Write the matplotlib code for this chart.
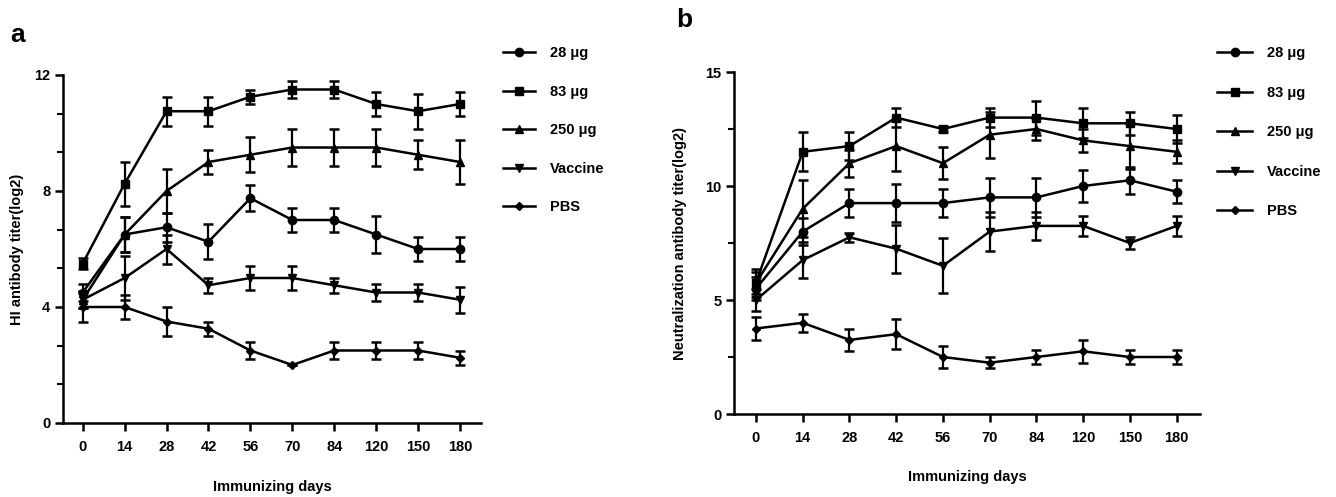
import matplotlib
matplotlib.use("Agg")
import matplotlib.pyplot as plt
from matplotlib.ticker import MultipleLocator
from matplotlib.lines import Line2D

plt.rcParams['font.family'] = ['Liberation Sans', 'DejaVu Sans']
plt.rcParams['font.weight'] = 'bold'

days = ["0", "14", "28", "42", "56", "70", "84", "120", "150", "180"]
groups = ["28 μg", "83 μg", "250 μg", "Vaccine", "PBS"]
markers = ["o", "s", "^", "v", "D"]

# Panel a: HI antibody titer (log2)
a_28 = [4.5, 6.5, 6.75, 6.25, 7.75, 7.0, 7.0, 6.5, 6.0, 6.0]
a_28_err = [0.3, 0.6, 0.5, 0.6, 0.45, 0.4, 0.4, 0.65, 0.4, 0.4]
a_83 = [5.5, 8.25, 10.75, 10.75, 11.25, 11.5, 11.5, 11.0, 10.75, 11.0]
a_83_err = [0.2, 0.75, 0.5, 0.5, 0.25, 0.3, 0.3, 0.4, 0.6, 0.4]
a_250 = [4.25, 6.5, 8.0, 9.0, 9.25, 9.5, 9.5, 9.5, 9.25, 9.0]
a_250_err = [0.3, 0.6, 0.75, 0.4, 0.6, 0.65, 0.65, 0.65, 0.5, 0.75]
a_vac = [4.25, 5.0, 6.0, 4.75, 5.0, 5.0, 4.75, 4.5, 4.5, 4.25]
a_vac_err = [0.3, 0.75, 0.5, 0.25, 0.4, 0.4, 0.25, 0.3, 0.3, 0.45]
a_pbs = [4.0, 4.0, 3.5, 3.25, 2.5, 2.0, 2.5, 2.5, 2.5, 2.25]
a_pbs_err = [0.5, 0.4, 0.5, 0.25, 0.3, 0.0, 0.3, 0.3, 0.3, 0.25]

# Panel b: Neutralization antibody titer (log2)
b_28 = [5.5, 8.0, 9.25, 9.25, 9.25, 9.5, 9.5, 10.0, 10.25, 9.75]
b_28_err = [0.5, 0.6, 0.6, 0.85, 0.6, 0.85, 0.85, 0.7, 0.6, 0.5]
b_83 = [5.75, 11.5, 11.75, 13.0, 12.5, 13.0, 13.0, 12.75, 12.75, 12.5]
b_83_err = [0.5, 0.85, 0.6, 0.4, 0.15, 0.4, 0.75, 0.65, 0.5, 0.6]
b_250 = [5.75, 9.0, 11.0, 11.75, 11.0, 12.25, 12.5, 12.0, 11.75, 11.5]
b_250_err = [0.6, 1.25, 0.6, 1.1, 0.7, 1.0, 0.5, 0.5, 1.0, 0.5]
b_vac = [5.0, 6.75, 7.75, 7.25, 6.5, 8.0, 8.25, 8.25, 7.5, 8.25]
b_vac_err = [0.5, 0.8, 0.2, 1.05, 1.2, 0.85, 0.6, 0.45, 0.25, 0.45]
b_pbs = [3.75, 4.0, 3.25, 3.5, 2.5, 2.25, 2.5, 2.75, 2.5, 2.5]
b_pbs_err = [0.5, 0.4, 0.5, 0.65, 0.5, 0.25, 0.3, 0.5, 0.3, 0.3]

W, H = 1336, 497
fig = plt.figure(figsize=(W / 100, H / 100), dpi=100)


def px_axes(l, r, t, b):
    return fig.add_axes([l / W, 1 - b / H, (r - l) / W, (b - t) / H])


def draw_panel(ax, series, errs, ymax, major, minor, ylabel, ylab_xy, xlab_xy):
    x = list(range(len(days)))
    handles = []
    for vals, err, m, lab in zip(series, errs, markers, groups):
        ms = 4.5 if m == "D" else 6
        ax.errorbar(x, vals, yerr=err, color="black", lw=1.8, marker=m,
                    ms=ms, capsize=3.5, capthick=1.8, elinewidth=1.6,
                    clip_on=False)
        handles.append(Line2D([0], [0], color="black", lw=1.8, marker=m,
                              ms=ms, label=lab))
    ax.set_xlim(-0.47, 9.5)
    ax.set_ylim(0, ymax)
    ax.set_xticks(x)
    ax.set_xticklabels(days)
    ax.yaxis.set_major_locator(MultipleLocator(major))
    ax.yaxis.set_minor_locator(MultipleLocator(minor))
    for s in ["top", "right"]:
        ax.spines[s].set_visible(False)
    for s in ["left", "bottom"]:
        ax.spines[s].set_linewidth(1.8)
    ax.tick_params(axis="both", which="major", width=1.8, length=6,
                   labelsize=10.5)
    ax.tick_params(axis="x", which="major", pad=6)
    ax.tick_params(axis="y", which="major", pad=3)
    ax.tick_params(axis="y", which="minor", width=1.5, length=4)
    for t in ax.get_xticklabels() + ax.get_yticklabels():
        t.set_fontweight("bold")
    ax.set_xlabel("Immunizing days", fontsize=10.5, fontweight="bold")
    ax.set_ylabel(ylabel, fontsize=10.5, fontweight="bold")
    ax.yaxis.set_label_coords(ylab_xy[0] / W, 1 - ylab_xy[1] / H,
                              transform=fig.transFigure)
    ax.xaxis.set_label_coords(xlab_xy[0] / W, 1 - xlab_xy[1] / H,
                              transform=fig.transFigure)
    ax.yaxis.label.set_va("center")
    ax.xaxis.label.set_va("center")
    return handles


ax_a = px_axes(63, 481, 75, 423)
ha = draw_panel(ax_a, [a_28, a_83, a_250, a_vac, a_pbs],
                [a_28_err, a_83_err, a_250_err, a_vac_err, a_pbs_err],
                12, 4, 4 / 3, "HI antibody titer(log2)", (17, 249), (272, 487))
ax_a.legend(handles=ha, loc="upper left", bbox_to_anchor=(490 / W, 1 - 33 / H),
            bbox_transform=fig.transFigure, frameon=False,
            labelspacing=1.68, handlelength=2.2, handletextpad=1.0,
            prop={"weight": "bold", "size": 10.5})

ax_b = px_axes(734, 1200, 72, 414)
hb = draw_panel(ax_b, [b_28, b_83, b_250, b_vac, b_pbs],
                [b_28_err, b_83_err, b_250_err, b_vac_err, b_pbs_err],
                15, 5, 2.5, "Neutralization antibody titer(log2)", (680, 243),
                (967, 477))
ax_b.legend(handles=hb, loc="upper left", bbox_to_anchor=(1204 / W, 1 - 33 / H),
            bbox_transform=fig.transFigure, frameon=False,
            labelspacing=1.75, handlelength=2.4, handletextpad=1.0,
            prop={"weight": "bold", "size": 10.5})

fig.text(10 / W, 1 - 35 / H, "a", fontsize=19, fontweight="bold",
         va="center", ha="left")
fig.text(676 / W, 1 - 20 / H, "b", fontsize=19, fontweight="bold",
         va="center", ha="left")

fig.savefig("out.png", dpi=100, facecolor="white")
